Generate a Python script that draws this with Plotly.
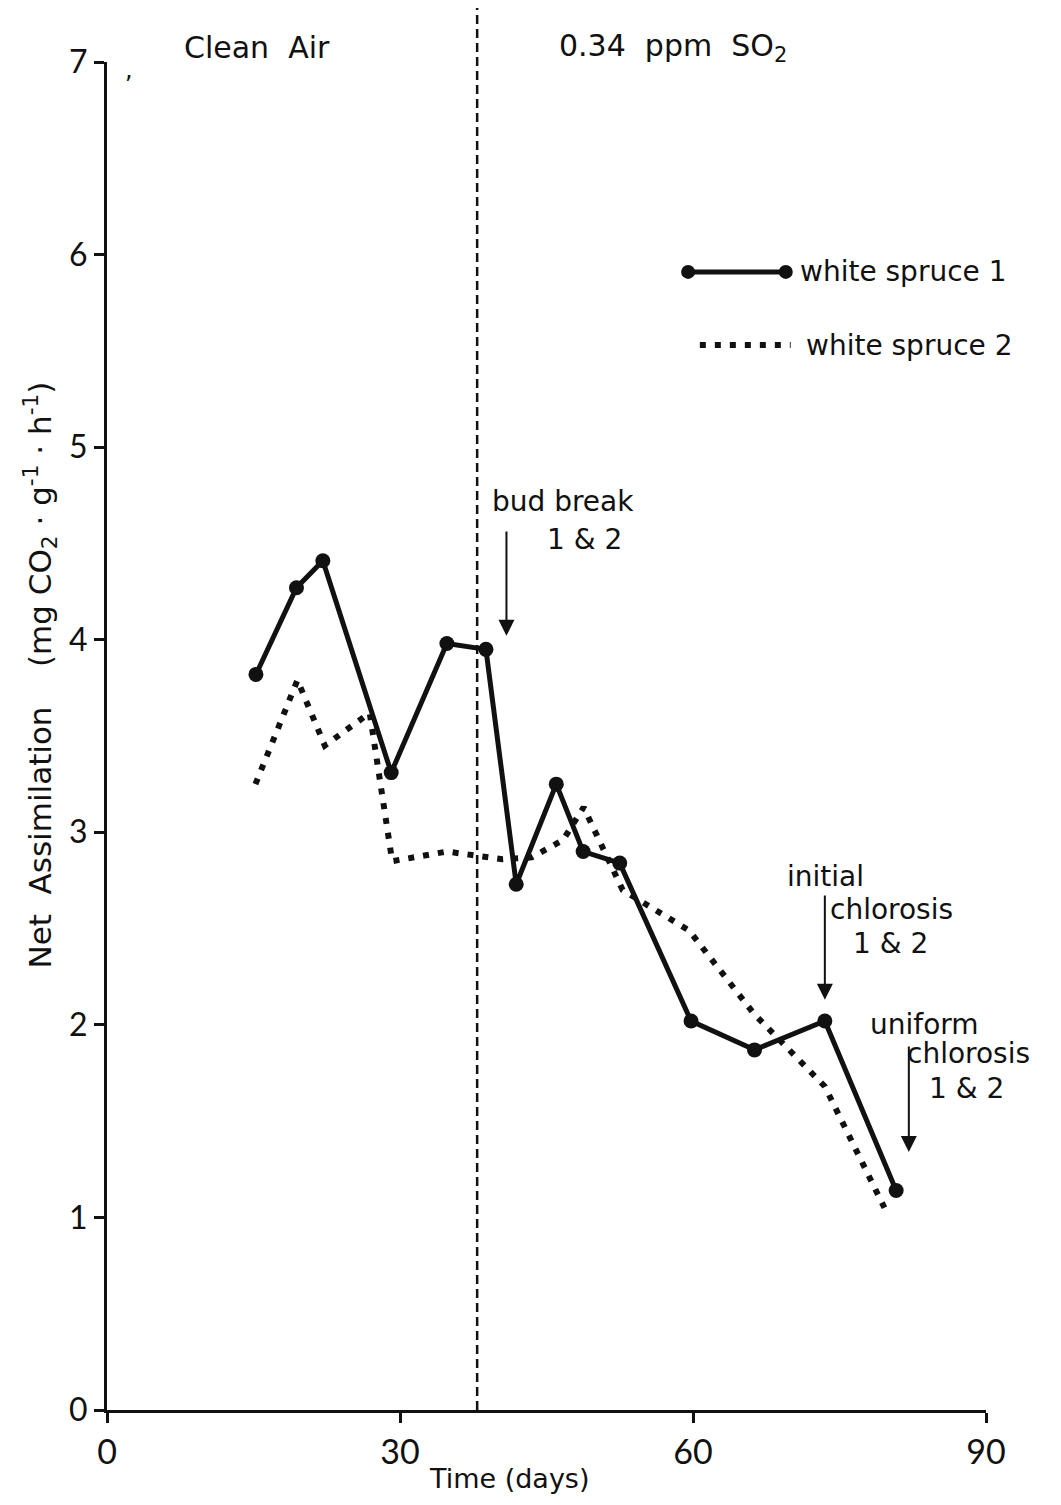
import plotly.graph_objects as go

# ---- data ----
days_1 = [15.25, 19.4, 22.1, 29.1, 34.8, 38.8, 41.9, 46.0, 48.75, 52.5, 59.8, 66.3, 73.5, 80.8]
assim_1 = [3.82, 4.27, 4.41, 3.31, 3.98, 3.95, 2.73, 3.25, 2.90, 2.84, 2.02, 1.87, 2.02, 1.14]

days_2 = [15.2, 19.5, 22.3, 26.9, 29.2, 34.8, 40.5, 43.5, 46.7, 48.8, 52.8, 59.6, 66.2, 73.5, 79.6]
assim_2 = [3.25, 3.79, 3.45, 3.62, 2.85, 2.90, 2.86, 2.87, 2.96, 3.13, 2.70, 2.49, 2.06, 1.68, 1.05]

series_names = ["white spruce 1", "white spruce 2"]
x_ticks = [0, 30, 60, 90]
y_ticks = [0, 1, 2, 3, 4, 5, 6, 7]
treatment_start_day = 37.9

FONT = "DejaVu Sans"
TICKFONT = "Lato"
BLACK = "#111111"

fig = go.Figure()

fig.add_trace(go.Scatter(x=days_2, y=assim_2, mode="lines", name=series_names[1],
                         line=dict(color=BLACK, width=6, dash="6px,9px"), showlegend=False))
fig.add_trace(go.Scatter(x=days_1, y=assim_1, mode="lines+markers", name=series_names[0],
                         line=dict(color=BLACK, width=5),
                         marker=dict(size=15, color=BLACK), showlegend=False))

# vertical dashed line (start of SO2 exposure)
fig.add_shape(type="line", xref="x", yref="paper", x0=treatment_start_day, x1=treatment_start_day,
              y0=0, y1=1.04, line=dict(color=BLACK, width=2.5, dash="9px,5px"))

# legend drawn manually
fig.add_shape(type="line", xref="x", yref="y", x0=59.5, x1=69.5, y0=5.91, y1=5.91,
              line=dict(color=BLACK, width=5))
for xc in (59.5, 69.5):
    fig.add_shape(type="circle", xref="x", yref="y", xsizemode="pixel", ysizemode="pixel",
                  xanchor=xc, yanchor=5.91, x0=-7, x1=7, y0=-7, y1=7,
                  fillcolor=BLACK, line=dict(color=BLACK, width=0))
fig.add_shape(type="line", xref="x", yref="y", x0=60.7, x1=70.0, y0=5.53, y1=5.53,
              line=dict(color=BLACK, width=6, dash="6px,9px"))

def txt(x, y, s, size=28, xanchor="left", yref="y"):
    fig.add_annotation(x=x, y=y, xref="x", yref=yref, text=s, showarrow=False,
                       xanchor=xanchor, yanchor="middle",
                       font=dict(family=FONT, size=size, color=BLACK))

txt(70.8, 5.91, "white spruce 1")
txt(71.4, 5.53, "white spruce 2")
txt(15.4, 1.0104, "Clean  Air", size=30, xanchor="center", yref="paper")
txt(58.0, 1.0104, "0.34  ppm  SO<sub>2</sub>", size=30, xanchor="center", yref="paper")
txt(1.6, 6.96, ",", size=24)

# event annotations
txt(39.2, 4.72, "bud break")
txt(44.8, 4.52, "1 & 2")
txt(69.4, 2.77, "initial")
txt(73.8, 2.60, "chlorosis")
txt(76.2, 2.42, "1 & 2")
txt(77.9, 2.00, "uniform")
txt(81.7, 1.85, "chlorosis")
txt(84.0, 1.67, "1 & 2")

for xa, ytop, ybot in [(40.9, 4.57, 4.02), (73.5, 2.68, 2.13), (82.1, 1.895, 1.34)]:
    fig.add_annotation(x=xa, y=ybot, ax=xa, ay=ytop, xref="x", yref="y", axref="x", ayref="y",
                       text="", showarrow=True, arrowhead=2, arrowsize=1.6, arrowwidth=2,
                       arrowcolor=BLACK)

# axis titles
fig.add_annotation(x=-0.076, y=0.545, xref="paper", yref="paper", textangle=-90,
                   xanchor="center", yanchor="middle",
                   text="Net  Assimilation    (mg CO<sub>2</sub> · g<sup>-1</sup> · h<sup>-1</sup>)",
                   showarrow=False, font=dict(family=FONT, size=31, color=BLACK))
fig.add_annotation(x=41.2, y=-0.038, xref="x", yref="paper", text="Time (days)",
                   showarrow=False, xanchor="center", yanchor="top",
                   font=dict(family=FONT, size=27, color=BLACK))

fig.update_xaxes(range=[0, 90], tickvals=x_ticks, ticktext=[str(v) for v in x_ticks],
                 showgrid=False, zeroline=False, showline=True, linecolor=BLACK, linewidth=3,
                 ticks="outside", ticklen=10, tickwidth=2.5, tickcolor=BLACK,
                 tickfont=dict(family=TICKFONT, size=34, color=BLACK))
fig.update_yaxes(range=[0, 7], tickvals=y_ticks, showgrid=False, zeroline=False,
                 showline=True, linecolor=BLACK, linewidth=3,
                 ticks="outside", ticklen=10, tickwidth=2.5, tickcolor=BLACK,
                 tickfont=dict(family=TICKFONT, size=32, color=BLACK))

# page body has an 8px margin: size/margins chosen so the plot lands where the reference has it
fig.update_layout(width=1045, height=1489, margin=dict(l=99, r=67, t=54, b=87),
                  plot_bgcolor="white", paper_bgcolor="white", showlegend=False)

fig.write_html("out.html")
